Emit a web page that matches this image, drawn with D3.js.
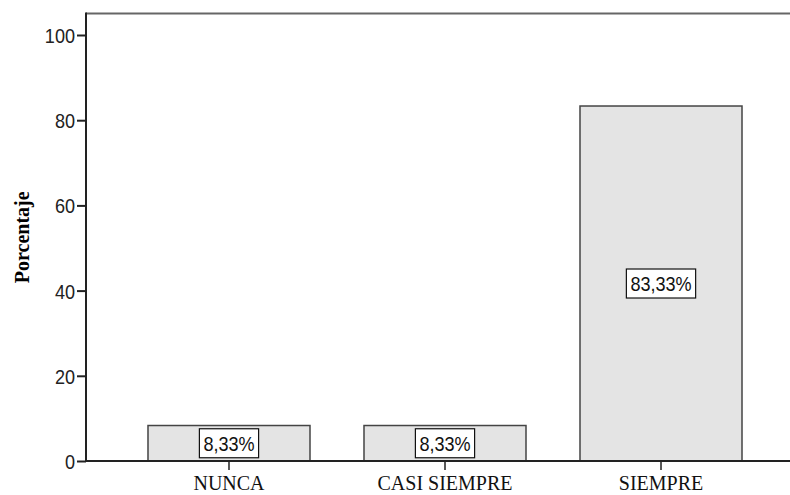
<!DOCTYPE html>
<html>
<head>
<meta charset="utf-8">
<script src="https://cdn.jsdelivr.net/npm/d3@7"></script>
<style>
  html, body { margin: 0; padding: 0; background: #fff; }
  svg { display: block; }
  .num { font-family: "Liberation Sans", Arial, sans-serif; }
  .cat { font-family: "Liberation Serif", "Times New Roman", serif; }
</style>
</head>
<body>
<svg id="chart" width="790" height="495"></svg>
<script>
const categories = ["NUNCA", "CASI SIEMPRE", "SIEMPRE"];
const values = [8.33, 8.33, 83.33];
const valueLabels = ["8,33%", "8,33%", "83,33%"];
const yTicks = [0, 20, 40, 60, 80, 100];
const yTitle = "Porcentaje";

const svg = d3.select("#chart");
const mLeft = 86, mTop = 13.5, mBottom = 461, rightEdge = 790;
const squeeze = 0.86;

function narrow(sel) {
  sel.each(function() {
    const w = this.getComputedTextLength();
    d3.select(this).attr("textLength", w * squeeze).attr("lengthAdjust", "spacingAndGlyphs");
  });
}

const x = d3.scaleBand().domain(categories).range([86, 804]).paddingInner(0.25).paddingOuter(0.287);
const y = d3.scaleLinear().domain([0, 100]).range([461, 35]);

// top frame line
svg.append("line").attr("x1", mLeft).attr("x2", rightEdge).attr("y1", mTop).attr("y2", mTop)
  .attr("stroke", "#666").attr("stroke-width", 2);

// bars
svg.append("g").selectAll("rect").data(values).join("rect")
  .attr("x", (d, i) => x(categories[i]))
  .attr("y", d => y(d))
  .attr("width", x.bandwidth())
  .attr("height", d => y(0) - y(d))
  .attr("fill", "#e4e4e4")
  .attr("stroke", "#444")
  .attr("stroke-width", 1.5);

// y axis
const yAxis = svg.append("g").attr("transform", `translate(${mLeft},0)`)
  .call(d3.axisLeft(y).tickValues(yTicks).tickSize(9).tickPadding(2).tickFormat(d3.format("d")));
yAxis.select(".domain").remove();
yAxis.selectAll(".tick line").attr("stroke", "#222").attr("stroke-width", 2);
yAxis.selectAll(".tick text").attr("class", "num").attr("font-size", 21).attr("fill", "#222")
  .attr("dy", "0.36em").call(narrow);
svg.append("line").attr("x1", mLeft).attr("x2", mLeft).attr("y1", mTop - 1).attr("y2", mBottom + 1)
  .attr("stroke", "#222").attr("stroke-width", 2);

// x axis
const xAxis = svg.append("g").attr("transform", `translate(0,${mBottom})`)
  .call(d3.axisBottom(x).tickSize(9).tickPadding(6));
xAxis.select(".domain").remove();
xAxis.selectAll(".tick line").attr("stroke", "#222").attr("stroke-width", 1.5);
xAxis.selectAll(".tick text").attr("class", "cat").attr("font-size", 20).attr("fill", "#111");
svg.append("line").attr("x1", mLeft).attr("x2", rightEdge).attr("y1", mBottom).attr("y2", mBottom)
  .attr("stroke", "#222").attr("stroke-width", 2);

// value labels
const lab = svg.append("g").selectAll("g").data(values).join("g")
  .attr("transform", (d, i) => `translate(${x(categories[i]) + x.bandwidth() / 2},${(y(d) + y(0)) / 2})`);
lab.each(function(d, i) {
  const g = d3.select(this);
  const r = g.append("rect").attr("fill", "#fff").attr("stroke", "#111").attr("stroke-width", 1.2);
  const t = g.append("text").attr("class", "num").attr("font-size", 21).attr("text-anchor", "middle")
    .attr("dy", "0.36em").attr("fill", "#111").text(valueLabels[i]).call(narrow);
  const bb = t.node().getBBox();
  r.attr("x", bb.x - 4).attr("y", -14.5).attr("width", bb.width + 8).attr("height", 29);
});

// y title
svg.append("text").attr("class", "cat")
  .attr("transform", `translate(29,${(mTop + mBottom) / 2}) rotate(-90)`)
  .attr("text-anchor", "middle").attr("font-size", 20).attr("font-weight", "bold")
  .text(yTitle);
</script>
</body>
</html>
